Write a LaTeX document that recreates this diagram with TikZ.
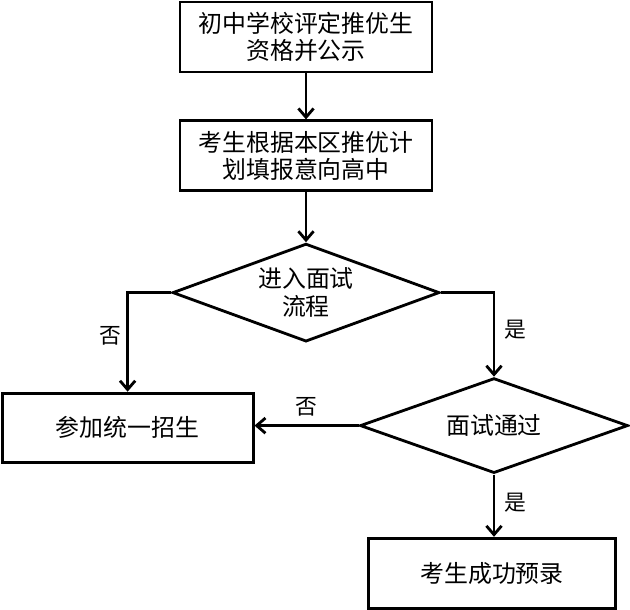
\documentclass[tikz,border=0pt]{standalone}
\usepackage{fontspec}
\setmainfont{Noto Sans CJK SC}
\usetikzlibrary{arrows.meta,positioning,shapes.geometric}

\begin{document}
\begin{tikzpicture}[
    node distance=1.15cm,
    box/.style={rectangle, draw, line width=2pt, minimum width=6.3cm,
                minimum height=1.75cm, align=center, font=\fontsize{17}{19.5}\selectfont},
    choice/.style={diamond, draw, line width=2pt, aspect=2.7, inner sep=0pt,
                align=center, font=\fontsize{17}{19.5}\selectfont},
    arr/.style={-{Straight Barb[length=2.2mm,width=3.8mm]}, line width=2pt},
    lbl/.style={font=\fontsize{15.5}{17}\selectfont}]
\useasboundingbox (0,0) rectangle (15.75,-15.25);
\node[box] (a) at (7.65,-0.925) {初中学校评定推优生\\资格并公示};
\node[box, below=of a] (b) {考生根据本区推优计\\划填报意向高中};
\node[choice, minimum width=6.675cm, minimum height=2.45cm, below=1.25cm of b] (c) {进入面试\\流程};
\node[choice, minimum width=6.7cm, minimum height=2.375cm] (d) at (12.35,-10.64) {面试通过};
\node[box, minimum width=6.275cm, minimum height=1.725cm] (e) at (3.19,-10.69) {参加统一招生};
\node[box, minimum width=6.175cm] (f) at (12.3,-14.33) {考生成功预录};
\draw[arr] (a) -- (b);
\draw[arr] (b) -- (c);
\draw[arr] (c.west) -| (e.north) node[lbl, pos=0.72, left] {否};
\draw[arr] (c.east) -| (d.north) node[lbl, pos=0.72, right=3pt] {是};
\draw[arr] (d.west) -- (d.west -| e.east) node[lbl, midway, above=2pt] {否};
\draw[arr] (d.south) -- (d.south |- f.north) node[lbl, pos=0.45, right=3pt] {是};
\end{tikzpicture}
\end{document}
